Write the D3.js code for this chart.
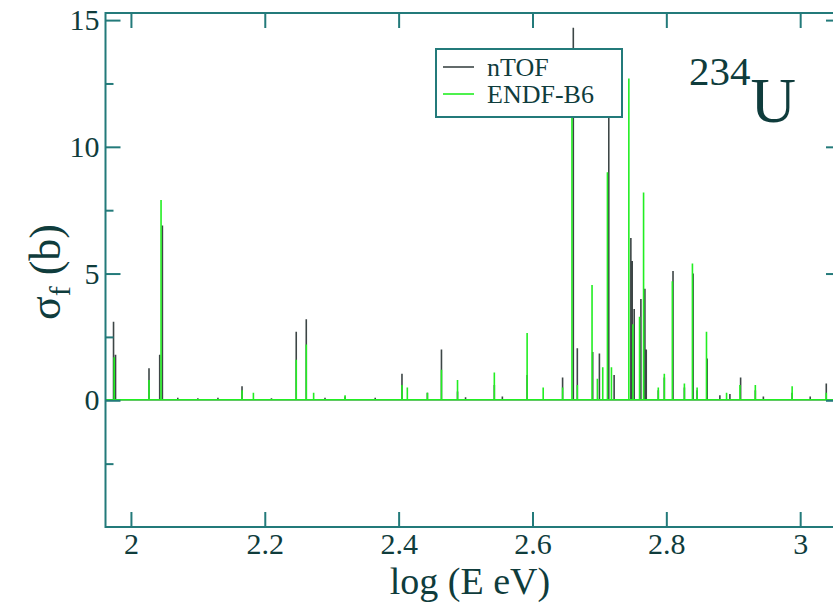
<!DOCTYPE html>
<html>
<head>
<meta charset="utf-8">
<script src="https://cdn.jsdelivr.net/npm/d3@7/dist/d3.min.js"></script>
<style>
  html, body { margin: 0; padding: 0; background: #fff; }
  svg { display: block; }
  text { font-family: "Liberation Serif", "DejaVu Serif", serif; fill: #0f3c3c; }
</style>
</head>
<body>
<svg id="chart" width="833" height="603"></svg>
<script>
// ---------------- data ----------------
const xTicks = [2, 2.2, 2.4, 2.6, 2.8, 3];
const xTickLabels = ["2", "2.2", "2.4", "2.6", "2.8", "3"];
const yTicks = [0, 5, 10, 15];
const yTickLabels = ["0", "5", "10", "15"];
const yMinorTicks = [-2.5, 2.5, 7.5, 12.5];

const seriesNames = ["nTOF", "ENDF-B6"];

// nTOF resonance peaks: log(E) position and peak sigma_f (b)
const ntofX = [1.974, 1.977, 2.027, 2.043, 2.047, 2.07, 2.10, 2.13, 2.166, 2.21, 2.247, 2.262, 2.29, 2.32,
  2.365, 2.405, 2.443, 2.464, 2.488, 2.50, 2.543, 2.555, 2.592, 2.645, 2.661, 2.667, 2.690, 2.700,
  2.714, 2.722, 2.747, 2.749, 2.752, 2.762, 2.768, 2.770, 2.788, 2.797, 2.810, 2.827, 2.840, 2.846,
  2.861, 2.88, 2.895, 2.911, 2.933, 2.945, 2.988, 3.015, 3.039];
const ntofY = [3.1, 1.8, 1.26, 1.8, 6.9, 0.1, 0.08, 0.1, 0.55, 0.08, 2.7, 3.2, 0.1, 0.15,
  0.1, 1.05, 0.3, 2.0, 0.35, 0.12, 0.6, 0.15, 1.0, 0.9, 14.7, 2.05, 1.9, 1.85,
  13.9, 1.0, 6.4, 5.5, 3.6, 4.0, 4.4, 2.0, 0.4, 0.9, 5.1, 0.5, 5.0, 0.4,
  1.65, 0.2, 0.25, 0.9, 0.4, 0.15, 0.3, 0.15, 0.66];

// ENDF-B6 evaluated peaks
const endfX = [1.975, 2.027, 2.045, 2.166, 2.183, 2.247, 2.262, 2.273, 2.32, 2.405, 2.413, 2.443, 2.464,
  2.488, 2.543, 2.592, 2.616, 2.645, 2.659, 2.667, 2.689, 2.697, 2.705, 2.712, 2.718, 2.744, 2.750,
  2.760, 2.766, 2.788, 2.797, 2.809, 2.827, 2.839, 2.846, 2.860, 2.89, 2.910, 2.933, 2.988, 3.039];
const endfY = [1.7, 0.8, 7.9, 0.4, 0.3, 1.6, 2.2, 0.3, 0.2, 0.6, 0.5, 0.3, 1.2,
  0.8, 1.1, 2.65, 0.5, 0.5, 13.0, 0.6, 4.55, 0.85, 1.3, 9.0, 1.3, 12.7, 3.0,
  3.3, 8.2, 0.5, 1.05, 4.7, 0.66, 5.4, 0.5, 2.7, 0.3, 0.6, 0.6, 0.55, 0.3];

const baseLevel = 0.02;

// ---------------- layout ----------------
const svg = d3.select("#chart");
const pL = 105.5, pR = 841, pT = 13, pB = 527;
const x = d3.scaleLinear().domain([1.962, 3.061]).range([pL, pR]);
const y = d3.scaleLinear().domain([-5, 15.28]).range([pB, pT]);

const frameColor = "#237a7a";
const textColor = "#0f3c3c";
const ntofColor = "#3d4646";
const endfColor = "#22ee22";

svg.append("defs").append("clipPath").attr("id", "clip")
  .append("rect").attr("x", pL).attr("y", pT).attr("width", pR - pL).attr("height", pB - pT);

// build spike path points from a peak list
function spikes(xs, ys) {
  const pk = xs.map((v, i) => [v, ys[i]]).sort((a, b) => a[0] - b[0]);
  const pts = [[x.domain()[0], baseLevel]];
  pk.forEach(([px, py]) => { pts.push([px, baseLevel], [px, py], [px, baseLevel]); });
  pts.push([x.domain()[1], baseLevel]);
  return pts;
}
const line = d3.line().x(d => x(d[0])).y(d => y(d[1]));

const g = svg.append("g").attr("clip-path", "url(#clip)");
g.append("path").attr("d", line(spikes(ntofX, ntofY)))
  .attr("fill", "none").attr("stroke", ntofColor).attr("stroke-width", 1.6);
g.append("path").attr("d", line(spikes(endfX, endfY)))
  .attr("fill", "none").attr("stroke", endfColor).attr("stroke-width", 1.6);

// ---------------- axes (frame with inward ticks) ----------------
svg.append("rect").attr("x", pL).attr("y", pT).attr("width", pR - pL).attr("height", pB - pT)
  .attr("fill", "none").attr("stroke", frameColor).attr("stroke-width", 2);

function styleAxis(sel) {
  sel.attr("font-family", null).attr("font-size", null);
  sel.select(".domain").remove();
  sel.selectAll("line").attr("stroke", frameColor).attr("stroke-width", 2);
  sel.selectAll("text").attr("font-size", 30).attr("fill", textColor)
    .style("font-family", '"Liberation Serif", serif');
}

svg.append("g").attr("transform", `translate(0,${pB})`)
  .call(d3.axisBottom(x).tickValues(xTicks).tickSizeInner(-15).tickSizeOuter(0)
    .tickFormat((d, i) => xTickLabels[i]).tickPadding(6)).call(styleAxis);

svg.append("g").attr("transform", `translate(0,${pT})`)
  .call(d3.axisTop(x).tickValues(xTicks).tickSizeInner(-15).tickSizeOuter(0).tickFormat(""))
  .call(styleAxis);

svg.append("g").attr("transform", `translate(${pL},0)`)
  .call(d3.axisLeft(y).tickValues(yTicks).tickSizeInner(-15).tickSizeOuter(0)
    .tickFormat((d, i) => yTickLabels[i]).tickPadding(6)).call(styleAxis);

svg.append("g").attr("transform", `translate(${pL},0)`)
  .call(d3.axisLeft(y).tickValues(yMinorTicks).tickSizeInner(-8).tickSizeOuter(0).tickFormat(""))
  .call(styleAxis);

svg.append("g").attr("transform", `translate(${pR},0)`)
  .call(d3.axisRight(y).tickValues(yTicks).tickSizeInner(-15).tickSizeOuter(0).tickFormat(""))
  .call(styleAxis);
svg.append("g").attr("transform", `translate(${pR},0)`)
  .call(d3.axisRight(y).tickValues(yMinorTicks).tickSizeInner(-8).tickSizeOuter(0).tickFormat(""))
  .call(styleAxis);

// ---------------- titles ----------------
svg.append("text").attr("x", 470).attr("y", 594)
  .attr("text-anchor", "middle").attr("font-size", 38).text("log (E eV)");

const yt = svg.append("text").attr("transform", "translate(60,272) rotate(-90)")
  .attr("text-anchor", "middle").attr("font-size", 44);
yt.append("tspan").text("σ");
yt.append("tspan").attr("font-size", 30).attr("dy", 10).text("f");
yt.append("tspan").attr("dy", -10).text(" (b)");

// isotope label
const iso = svg.append("text").attr("x", 689).attr("y", 122);
iso.append("tspan").attr("font-size", 41).attr("dy", -37).text("234");
iso.append("tspan").attr("font-size", 63).attr("dy", 37).text("U");

// ---------------- legend ----------------
const lg = svg.append("g");
lg.append("rect").attr("x", 436).attr("y", 49).attr("width", 186).attr("height", 68)
  .attr("fill", "#fff").attr("stroke", frameColor).attr("stroke-width", 2);
const legColors = [ntofColor, endfColor];
seriesNames.forEach((name, i) => {
  const ly = 67 + i * 27;
  lg.append("line").attr("x1", 443).attr("x2", 474).attr("y1", ly).attr("y2", ly)
    .attr("stroke", legColors[i]).attr("stroke-width", 1.6);
  lg.append("text").attr("x", 487).attr("y", ly + 9).attr("font-size", 26).text(name);
});
</script>
</body>
</html>
